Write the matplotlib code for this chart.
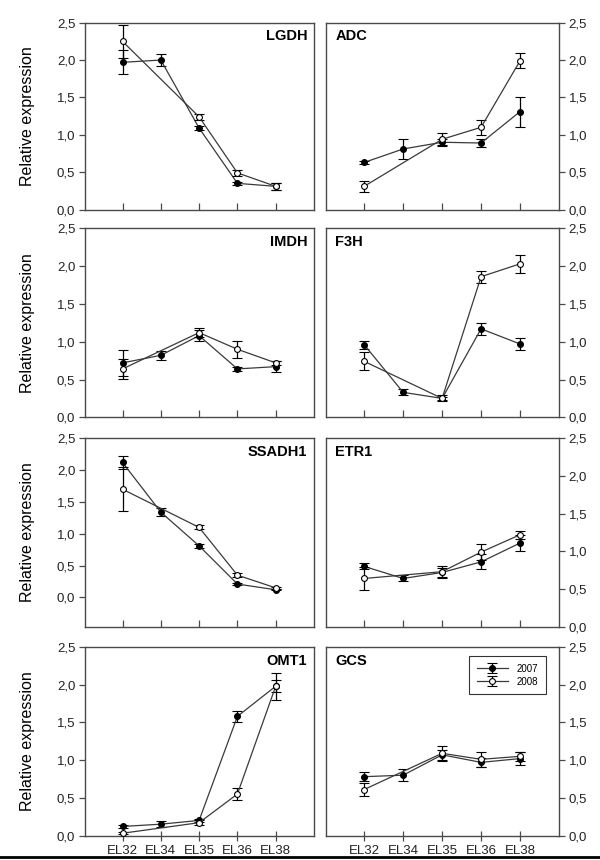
import numpy as np
import matplotlib
matplotlib.use("Agg")
import matplotlib.pyplot as plt
from matplotlib.ticker import FuncFormatter
from matplotlib.lines import Line2D

plt.rcParams['font.family'] = ['Liberation Sans', 'DejaVu Sans']

nan = np.nan
stages = ['EL32', 'EL34', 'EL35', 'EL36', 'EL38']

lgdh_2007 = [1.97, 2.00, 1.09, 0.35, 0.31]
lgdh_2007_err = [0.16, 0.08, 0.03, 0.02, 0.05]
lgdh_2008 = [2.25, nan, 1.24, 0.49, 0.31]
lgdh_2008_err = [0.22, nan, 0.04, 0.04, 0.05]

adc_2007 = [0.63, 0.81, 0.90, 0.89, 1.31]
adc_2007_err = [0.02, 0.13, 0.05, 0.05, 0.20]
adc_2008 = [0.31, nan, 0.94, 1.10, 1.99]
adc_2008_err = [0.07, nan, 0.08, 0.10, 0.10]

imdh_2007 = [0.72, 0.82, 1.08, 0.64, 0.67]
imdh_2007_err = [0.17, 0.06, 0.07, 0.03, 0.07]
imdh_2008 = [0.64, nan, 1.12, 0.90, 0.72]
imdh_2008_err = [0.13, nan, 0.06, 0.11, 0.03]

f3h_2007 = [0.96, 0.33, 0.25, 1.17, 0.97]
f3h_2007_err = [0.05, 0.04, 0.02, 0.08, 0.08]
f3h_2008 = [0.74, nan, 0.25, 1.86, 2.03]
f3h_2008_err = [0.12, nan, 0.04, 0.08, 0.12]

ssadh1_2007 = [2.12, 1.34, 0.81, 0.21, 0.12]
ssadh1_2007_err = [0.10, 0.06, 0.03, 0.02, 0.01]
ssadh1_2008 = [1.70, nan, 1.10, 0.35, 0.15]
ssadh1_2008_err = [0.35, nan, 0.03, 0.03, 0.01]

etr1_2007 = [0.80, 0.64, 0.72, 0.86, 1.11]
etr1_2007_err = [0.04, 0.04, 0.06, 0.10, 0.11]
etr1_2008 = [0.64, nan, 0.73, 0.99, 1.22]
etr1_2008_err = [0.15, nan, 0.08, 0.11, 0.05]

omt1_2007 = [0.12, 0.15, 0.20, 1.58, 1.98]
omt1_2007_err = [0.02, 0.04, 0.02, 0.07, 0.18]
omt1_2008 = [0.03, nan, 0.17, 0.55, 1.98]
omt1_2008_err = [0.01, nan, 0.03, 0.08, 0.08]

gcs_2007 = [0.78, 0.80, 1.07, 0.97, 1.02]
gcs_2007_err = [0.06, 0.08, 0.07, 0.06, 0.09]
gcs_2008 = [0.61, nan, 1.09, 1.01, 1.05]
gcs_2008_err = [0.09, nan, 0.10, 0.10, 0.06]

years = ['2007', '2008']
yticks = [0.0, 0.5, 1.0, 1.5, 2.0, 2.5]

panels = [
    ('LGDH', lgdh_2007, lgdh_2007_err, lgdh_2008, lgdh_2008_err, 0, 0),
    ('ADC', adc_2007, adc_2007_err, adc_2008, adc_2008_err, 0, 1),
    ('IMDH', imdh_2007, imdh_2007_err, imdh_2008, imdh_2008_err, 1, 0),
    ('F3H', f3h_2007, f3h_2007_err, f3h_2008, f3h_2008_err, 1, 1),
    ('SSADH1', ssadh1_2007, ssadh1_2007_err, ssadh1_2008, ssadh1_2008_err, 2, 0),
    ('ETR1', etr1_2007, etr1_2007_err, etr1_2008, etr1_2008_err, 2, 1),
    ('OMT1', omt1_2007, omt1_2007_err, omt1_2008, omt1_2008_err, 3, 0),
    ('GCS', gcs_2007, gcs_2007_err, gcs_2008, gcs_2008_err, 3, 1),
]

fig = plt.figure(figsize=(6.0, 8.6), dpi=100)

row_px = [(22.7, 209.5), (228.3, 417.3), (438.3, 626.7), (647.0, 835.5)]
col_px = [(85, 314), (326, 559)]
W, H = 600.0, 860.0

spine_c = '#4a4a4a'
line_c = '#3a3a3a'
text_c = '#222222'

fmt = FuncFormatter(lambda v, p: ('%.1f' % v).replace('.', ','))

def plot_series(ax, vals, errs, filled, label):
    x = np.arange(len(stages))
    v = np.array(vals, dtype=float)
    e = np.array(errs, dtype=float)
    m = ~np.isnan(v)
    ax.errorbar(x[m], v[m], yerr=e[m], color=line_c, lw=0.9,
                elinewidth=0.9, capsize=3.5, capthick=0.9,
                marker='o', markersize=4.2,
                markerfacecolor=('black' if filled else 'white'),
                markeredgecolor='black', markeredgewidth=0.8,
                ecolor='black', label=label, zorder=3 if filled else 4)

for name, a07, e07, a08, e08, r, c in panels:
    top, bot = row_px[r]
    left, right = col_px[c]
    ax = fig.add_axes([left / W, 1 - bot / H, (right - left) / W, (bot - top) / H])
    plot_series(ax, a07, e07, True, years[0])
    plot_series(ax, a08, e08, False, years[1])
    ax.set_xlim(-0.98, 5.0)
    if name == 'SSADH1':
        ax.set_ylim(-0.46, 2.5)
    else:
        ax.set_ylim(0, 2.5)
    ax.set_yticks(yticks)
    ax.yaxis.set_major_formatter(fmt)
    ax.set_xticks(np.arange(len(stages)))
    for sp in ax.spines.values():
        sp.set_color(spine_c)
        sp.set_linewidth(1.0)
    ax.tick_params(axis='y', direction='out', length=4, width=0.9,
                   color=spine_c, labelsize=9.5, labelcolor=text_c, pad=3)
    if r == 3:
        ax.set_xticklabels(stages)
        ax.tick_params(axis='x', direction='inout', length=7, width=0.9,
                       color=spine_c, labelsize=9.5, labelcolor=text_c, pad=3)
    else:
        ax.set_xticklabels([])
        ax.tick_params(axis='x', direction='in', length=5, width=0.9,
                       color=spine_c)
    if c == 0:
        ax.set_ylabel('Relative expression', fontsize=11.5, color='black')
        ax.yaxis.set_label_coords(-0.218, 0.5)
        ax.text(0.97, 0.965, name, transform=ax.transAxes, ha='right',
                va='top', fontsize=10.5, fontweight='bold', color='black')
    else:
        ax.yaxis.tick_right()
        ax.yaxis.set_label_position('right')
        ax.text(0.04, 0.965, name, transform=ax.transAxes, ha='left',
                va='top', fontsize=10.5, fontweight='bold', color='black')
    if name == 'GCS':
        leg = ax.legend(loc='upper right', bbox_to_anchor=(0.944, 0.953),
                        fontsize=7, frameon=True, fancybox=False,
                        edgecolor='black', handlelength=3.2,
                        labelspacing=0.3, borderpad=0.8, handletextpad=0.9,
                        borderaxespad=0)
        leg.get_frame().set_linewidth(0.8)

fig.add_artist(Line2D([0, 1], [0.0035, 0.0035], transform=fig.transFigure,
                      color='black', lw=2))

fig.savefig('out.png', dpi=100, facecolor='white')
